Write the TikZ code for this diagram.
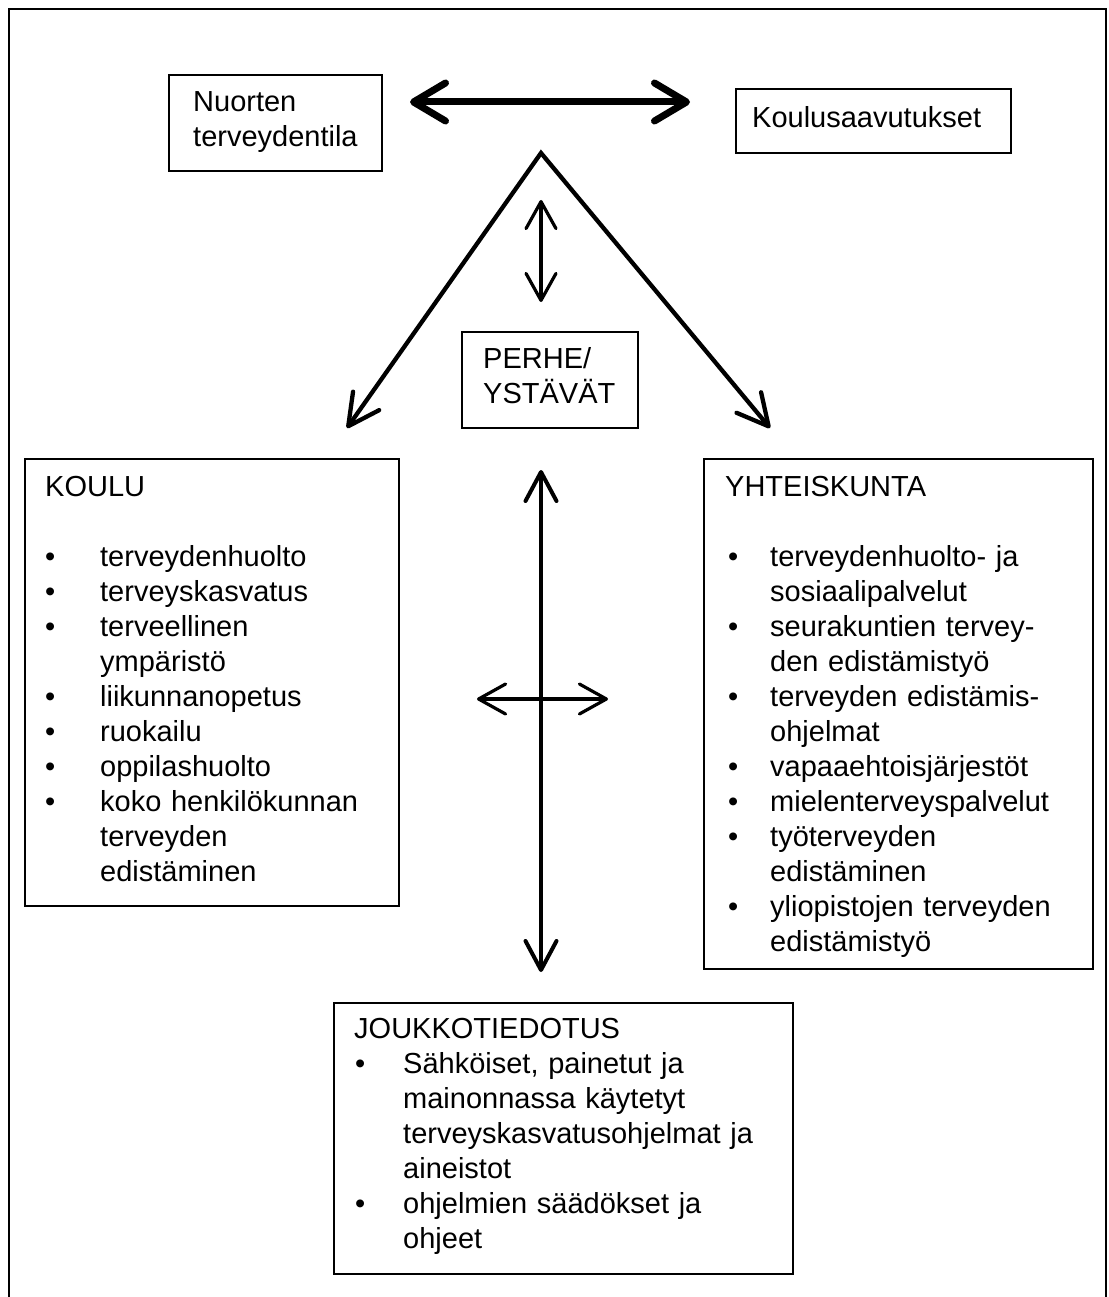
\documentclass[tikz,border=0pt]{standalone}
\usepackage{fontspec}
\setmainfont{Liberation Sans}
\usetikzlibrary{arrows.meta}
\newcommand{\bl}[2]{\hspace*{#1}\makebox[#2][l]{•}}
\newcommand{\cn}[1]{\hspace*{#1}}
\begin{document}
\begin{tikzpicture}[x=1pt,y=-1pt,
  box/.style={draw, line width=1.8pt, inner sep=0pt, anchor=north west},
  txt/.style={inner sep=0pt, anchor=base west, align=left, text width=420pt,
    font=\fontsize{29}{35}\selectfont},
  bigarr/.style={line width=7pt, >={Straight Barb[length=32pt,width=38pt,round]}, <->},
  legarr/.style={line width=4.3pt, line join=miter, >={Straight Barb[length=31pt,width=32pt,round]}, <->},
  smallarr/.style={line width=3.2pt, >={Straight Barb[length=27pt,width=30pt,round]}, <->},
  longarr/.style={line width=4pt, >={Straight Barb[length=29pt,width=31pt,round]}, <->}
]
\useasboundingbox (0,0) rectangle (1108,1297);
% frame
\draw[line width=2.5pt] (9,1297) -- (9,9) -- (1106,9) -- (1106,1297);

% boxes
\node[box, minimum width=213pt, minimum height=96pt] (nuorten) at (168,74) {};
\node[box, minimum width=275pt, minimum height=64pt] (koulus) at (735,88) {};
\node[box, minimum width=176pt, minimum height=96pt] (perhe) at (461,331) {};
\node[box, minimum width=374pt, minimum height=447pt] (koulu) at (24,458) {};
\node[box, minimum width=389pt, minimum height=510pt] (yht) at (703,458) {};
\node[box, minimum width=459pt, minimum height=271pt] (jouk) at (333,1002) {};

% texts
\node[txt] (nuortenT) at (193,112) {Nuorten\\terveydentila};
\node[txt] (koulusT) at (752,128) {Koulusaavutukset};
\node[txt] (perheT) at (483,368) {PERHE/\\YSTÄVÄT};
\node[txt] (kouluT) at (45,496) {KOULU\\[35pt]
\bl{0pt}{55pt}terveydenhuolto\\
\bl{0pt}{55pt}terveyskasvatus\\
\bl{0pt}{55pt}terveellinen\\
\cn{55pt}ympäristö\\
\bl{0pt}{55pt}liikunnanopetus\\
\bl{0pt}{55pt}ruokailu\\
\bl{0pt}{55pt}oppilashuolto\\
\bl{0pt}{55pt}koko henkilökunnan\\
\cn{55pt}terveyden\\
\cn{55pt}edistäminen};
\node[txt] (yhtT) at (725,496) {YHTEISKUNTA\\[35pt]
\bl{3pt}{42pt}terveydenhuolto- ja\\
\cn{45pt}sosiaalipalvelut\\
\bl{3pt}{42pt}seurakuntien tervey-\\
\cn{45pt}den edistämistyö\\
\bl{3pt}{42pt}terveyden edistämis-\\
\cn{45pt}ohjelmat\\
\bl{3pt}{42pt}vapaaehtoisjärjestöt\\
\bl{3pt}{42pt}mielenterveyspalvelut\\
\bl{3pt}{42pt}työterveyden\\
\cn{45pt}edistäminen\\
\bl{3pt}{42pt}yliopistojen terveyden\\
\cn{45pt}edistämistyö};
\node[txt] (joukT) at (354,1038) {JOUKKOTIEDOTUS\\
\bl{1pt}{48pt}Sähköiset, painetut ja\\
\cn{49pt}mainonnassa käytetyt\\
\cn{49pt}terveyskasvatusohjelmat ja\\
\cn{49pt}aineistot\\
\bl{1pt}{48pt}ohjelmien säädökset ja\\
\cn{49pt}ohjeet};

% connector points
\coordinate (hL) at (410,102);
\coordinate (hR) at (690,102);
\coordinate (apex) at (541,153);
\coordinate (tipL) at (347,428);
\coordinate (tipR) at (770,428);
\coordinate (vsT) at (541,200);
\coordinate (vsB) at (541,302);
\coordinate (vlT) at (541,470);
\coordinate (vlB) at (541,972);
\coordinate (hsL) at (477,699);
\coordinate (hsR) at (608,699);

% arrows
\draw[bigarr] (hL) -- (hR);
\draw[legarr] (tipL) -- (apex) -- (tipR);
\draw[smallarr] (vsT) -- (vsB);
\draw[longarr] (vlT) -- (vlB);
\draw[smallarr] (hsL) -- (hsR);
\end{tikzpicture}
\end{document}
